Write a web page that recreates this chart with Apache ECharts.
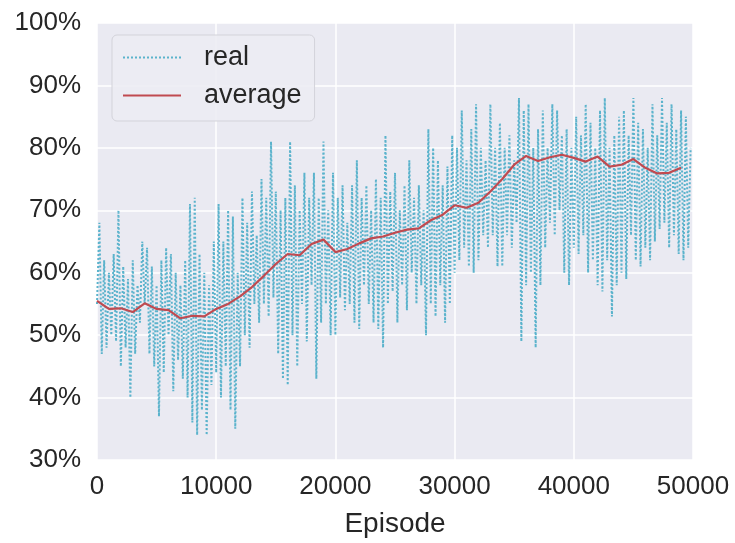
<!DOCTYPE html>
<html>
<head>
<meta charset="utf-8">
<script src="https://cdn.jsdelivr.net/npm/echarts@6/dist/echarts.min.js"></script>
<style>
html,body{margin:0;padding:0;background:#fff;}
#chart{width:735px;height:543px;}
</style>
</head>
<body>
<div id="chart"></div>
<script>
// Episode step for the raw series and for the running average
const realStep = 200;
const avgStep = 1000;

// "real" success rate (%), one value every 200 episodes
const realValues = [
55,68,47,62,48,60,50,63,49,70,
45,61,48,59,40,62,47,58,52,65,
55,64,47,61,45,58,37,62,44,64,
50,63,41,60,46,58,43,62,40,71,
36,72,34,63,38,60,34,58,42,65,
44,71,40,65,45,70,38,69,35,60,
45,72,50,68,48,73,55,66,52,75,
55,72,53,81,56,73,47,70,43,72,
42,81,50,74,45,70,55,76,49,72,
58,76,43,72,52,81,55,70,50,76,
50,72,56,74,54,68,55,74,52,78,
51,72,58,74,55,70,52,75,51,72,
48,82,55,73,57,76,52,70,58,74,
54,78,60,72,55,74,58,70,50,83,
55,80,53,78,58,74,52,77,55,82,
60,80,62,86,64,78,61,83,60,87,
62,80,66,78,64,87,66,80,61,84,
61,80,66,82,64,78,68,88,49,86,
58,87,60,80,48,83,58,86,64,80,
68,87,66,86,70,82,60,83,58,80,
64,85,63,82,66,87,60,84,62,80,
58,86,57,88,62,80,53,82,58,85,
60,86,59,82,66,88,62,84,61,83,
64,80,62,87,65,82,67,88,68,84,
64,87,66,83,63,86,62,85,64,80
];

// "average" (%) one value every 1000 episodes
const avgValues = [
55.5,54.2,54.3,53.7,55.1,54.2,54.0,52.7,53.1,53.0,
54.2,55.0,56.2,57.7,59.5,61.4,63.0,62.8,64.6,65.3,
63.3,63.8,64.7,65.5,65.8,66.4,66.9,67.1,68.4,69.3,
70.8,70.4,71.2,73.0,75.0,77.3,78.7,77.9,78.5,78.9,
78.4,77.8,78.6,77.0,77.3,78.2,76.8,75.9,76.0,76.8
];

const xTicks = [0, 10000, 20000, 30000, 40000, 50000];
const yTicks = [30, 40, 50, 60, 70, 80, 90, 100];

const realData = realValues.map((v, i) => [i * realStep, v]);
const avgData = avgValues.map((v, i) => [i * avgStep, v]);

const textColor = '#262626';
const chart = echarts.init(document.getElementById('chart'));
chart.setOption({
  animation: false,
  textStyle: { fontFamily: 'Liberation Sans, Arial, sans-serif' },
  grid: {
    left: 97, right: 42, top: 23, bottom: 83,
    show: true, backgroundColor: '#EAEAF2', borderWidth: 0
  },
  legend: {
    orient: 'vertical',
    left: 112, top: 35,
    padding: [9, 13, 12, 10],
    itemWidth: 58, itemHeight: 16, itemGap: 11,
    backgroundColor: 'rgba(236,236,243,0.9)',
    borderColor: '#D3D3DA', borderWidth: 1, borderRadius: 5,
    itemStyle: { opacity: 0, borderWidth: 0 },
    textStyle: { fontSize: 27, color: textColor, padding: [0, 0, 0, 18] },
    data: ['real', 'average']
  },
  xAxis: {
    type: 'value', min: xTicks[0], max: xTicks[xTicks.length - 1], interval: 10000,
    name: 'Episode', nameLocation: 'middle', nameGap: 50,
    nameTextStyle: { fontSize: 28, color: textColor },
    axisLine: { show: false }, axisTick: { show: false },
    axisLabel: { fontSize: 26, color: textColor, margin: 14, formatter: v => String(v) },
    splitLine: { show: true, lineStyle: { color: '#FFFFFF', width: 1.5 } }
  },
  yAxis: {
    type: 'value', min: yTicks[0], max: yTicks[yTicks.length - 1], interval: 10,
    axisLine: { show: false }, axisTick: { show: false },
    axisLabel: { fontSize: 26, color: textColor, margin: 16, formatter: '{value}%' },
    splitLine: { show: true, lineStyle: { color: '#FFFFFF', width: 1.5 } }
  },
  series: [
    {
      name: 'real', type: 'line', data: realData,
      symbol: 'none', z: 2,
      lineStyle: { color: '#5BB3CC', width: 2, type: [2, 2] },
      itemStyle: { color: '#5BB3CC' }
    },
    {
      name: 'average', type: 'line', data: avgData,
      symbol: 'none', z: 3,
      lineStyle: { color: '#C04A50', width: 2.2 },
      itemStyle: { color: '#C04A50' }
    }
  ]
});
</script>
</body>
</html>
